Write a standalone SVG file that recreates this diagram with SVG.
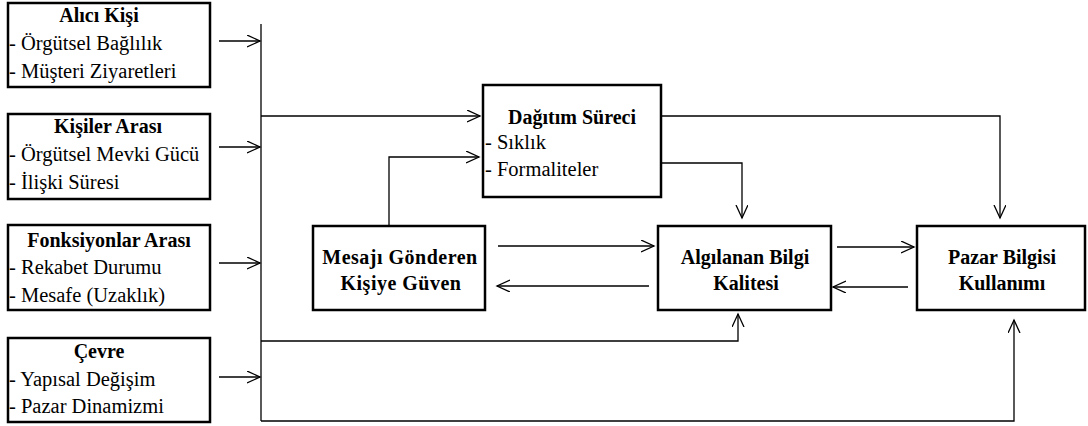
<svg xmlns="http://www.w3.org/2000/svg" width="1088" height="426" viewBox="0 0 1088 426">
<style>
.box{fill:#fff;stroke:#000;stroke-width:2.5}
.ln{fill:none;stroke:#000;stroke-width:1.3}
.ar{marker-end:url(#ah)}
text{font-family:"Liberation Serif",serif;font-size:20.5px;fill:#000}
.b{font-weight:bold;font-size:20px;text-anchor:middle}
</style>
<defs>
<marker id="ah" markerUnits="userSpaceOnUse" markerWidth="16" markerHeight="14" refX="13" refY="6" orient="auto" viewBox="0 0 16 14">
<path d="M0,0 L13,6 L0,12" fill="none" stroke="#000" stroke-width="1.3"/>
</marker>
</defs>
<rect width="1088" height="426" fill="#fff"/>
<g id="connectors">
<line class="ln ar" x1="219" y1="41" x2="260" y2="41"/>
<line class="ln ar" x1="219" y1="147" x2="260" y2="147"/>
<line class="ln ar" x1="219" y1="263" x2="260" y2="263"/>
<line class="ln ar" x1="219" y1="377" x2="260" y2="377"/>
<line class="ln" x1="261" y1="24" x2="261" y2="421"/>
<polyline class="ln ar" points="261,116 480,116"/>
<polyline class="ln ar" points="389,225 389,157 479,157"/>
<polyline class="ln ar" points="662,116 1000,116 1000,218"/>
<polyline class="ln ar" points="662,163 742,163 742,218"/>
<line class="ln ar" x1="498" y1="246" x2="654" y2="246"/>
<line class="ln ar" x1="649" y1="286" x2="497" y2="286"/>
<line class="ln ar" x1="837" y1="247" x2="914" y2="247"/>
<line class="ln ar" x1="908" y1="287" x2="833" y2="287"/>
<polyline class="ln ar" points="261,341 738,341 738,314"/>
<polyline class="ln ar" points="261,421 1014,421 1014,320"/>
</g>
<g id="alici">
<rect class="box" x="8" y="3" width="202" height="84"/>
<text class="b" x="99" y="22">Alıcı Kişi</text>
<text x="9" y="50">- Örgütsel Bağlılık</text>
<text x="9" y="78">- Müşteri Ziyaretleri</text>
</g>
<g id="kisiler">
<rect class="box" x="8" y="114" width="202" height="85"/>
<text class="b" x="108" y="133">Kişiler Arası</text>
<text x="9" y="161">- Örgütsel Mevki Gücü</text>
<text x="9" y="189">- İlişki Süresi</text>
</g>
<g id="fonksiyonlar">
<rect class="box" x="8" y="225" width="202" height="85"/>
<text class="b" x="109" y="247">Fonksiyonlar Arası</text>
<text x="9" y="274">- Rekabet Durumu</text>
<text x="9" y="302">- Mesafe (Uzaklık)</text>
</g>
<g id="cevre">
<rect class="box" x="8" y="338" width="202" height="84"/>
<text class="b" x="99" y="358">Çevre</text>
<text x="9" y="386">- Yapısal Değişim</text>
<text x="9" y="413">- Pazar Dinamizmi</text>
</g>
<g id="dagitim">
<rect class="box" x="483" y="85" width="178" height="112"/>
<text class="b" x="572" y="124">Dağıtım Süreci</text>
<text x="485" y="149">- Sıklık</text>
<text x="485" y="176">- Formaliteler</text>
</g>
<g id="mesaji">
<rect class="box" x="313" y="226" width="172" height="84"/>
<text class="b" letter-spacing="0.5" x="400" y="264">Mesajı Gönderen</text>
<text class="b" letter-spacing="0.5" x="401" y="290">Kişiye Güven</text>
</g>
<g id="algilanan">
<rect class="box" x="658" y="226" width="173" height="84"/>
<text class="b" x="745" y="264">Algılanan Bilgi</text>
<text class="b" x="746" y="290">Kalitesi</text>
</g>
<g id="pazar">
<rect class="box" x="917" y="226" width="168" height="84"/>
<text class="b" x="1002" y="264">Pazar Bilgisi</text>
<text class="b" x="1002" y="290">Kullanımı</text>
</g>
</svg>
